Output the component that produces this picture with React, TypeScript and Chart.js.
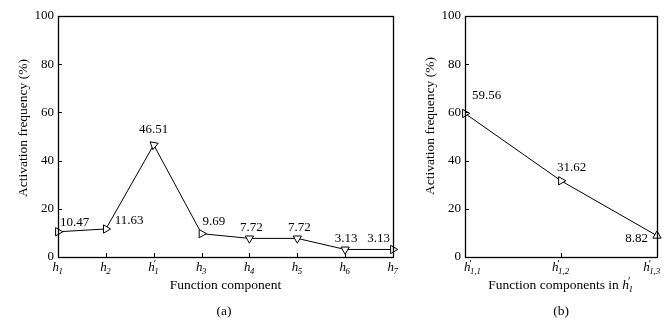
import React, { useEffect, useRef } from "react";
import { Chart, registerables } from "chart.js";

Chart.register(...registerables);

const FONT = '"Liberation Serif", "Times New Roman", "DejaVu Serif", serif';

// ---- data ----
const leftCategories = ["h|1", "h|2", "h'|1", "h|3", "h|4", "h|5", "h|6", "h|7"];
const leftValues = [10.47, 11.63, 46.51, 9.69, 7.72, 7.72, 3.13, 3.13];
const rightCategories = ["h'|1,1", "h'|1,2", "h'|1,3"];
const rightValues = [59.56, 31.62, 8.82];
const yMin = 0;
const yMax = 100;
const yStep = 20;
const yTitle = "Activation frequency (%)";
const leftXTitle = "Function component";
const rightXTitle = "Function components in ";
const rightXTitleMath = "h'|1";
const leftCaption = "(a)";
const rightCaption = "(b)";

type Place = { dx: number; dy: number; align: CanvasTextAlign };

function mathWidth(ctx: CanvasRenderingContext2D, spec: string, size: number) {
  const [base, sub] = spec.split("|");
  const letter = base.replace("'", "");
  ctx.font = `italic ${size}px ${FONT}`;
  const wb = ctx.measureText(letter).width;
  ctx.font = `italic ${size * 0.7}px ${FONT}`;
  const ws = ctx.measureText(sub || "").width;
  return wb + Math.max(ws, base.includes("'") ? size * 0.3 : 0);
}

function drawMath(
  ctx: CanvasRenderingContext2D,
  spec: string,
  x: number,
  baseline: number,
  align: CanvasTextAlign,
  size: number
) {
  const [base, sub] = spec.split("|");
  const prime = base.includes("'");
  const letter = base.replace("'", "");
  const w = mathWidth(ctx, spec, size);
  let sx = x;
  if (align === "center") sx = x - w / 2;
  else if (align === "right") sx = x - w;
  ctx.save();
  ctx.fillStyle = "#000";
  ctx.textAlign = "left";
  ctx.textBaseline = "alphabetic";
  ctx.font = `italic ${size}px ${FONT}`;
  ctx.fillText(letter, sx, baseline);
  const wb = ctx.measureText(letter).width;
  if (prime) {
    ctx.font = `${size * 0.85}px ${FONT}`;
    ctx.fillText("\u2032", sx + wb - 1, baseline - size * 0.28);
  }
  if (sub) {
    ctx.font = `italic ${size * 0.68}px ${FONT}`;
    ctx.fillText(sub, sx + wb - 0.5, baseline + size * 0.2);
  }
  ctx.restore();
  return w;
}

type PanelCfg = {
  categories: string[];
  values: number[];
  rotations: number[];
  places: Place[];
  tickAlign: { dx: number; align: CanvasTextAlign }[];
  width: number;
  height: number;
  padLeft: number;
  padRight: number;
  padTop: number;
  yWidth: number;
  xHeight: number;
  yTitleX: number;
  yTitleY: number;
  xTitle: string;
  xTitleMath?: string;
  xTitleY: number;
  caption: string;
  captionX: number;
  captionY: number;
};

function makePlugin(cfg: PanelCfg) {
  return {
    id: "decor",
    afterDraw(chart: any) {
      const ctx: CanvasRenderingContext2D = chart.ctx;
      const a = chart.chartArea;
      const xs = chart.scales.x;
      const ys = chart.scales.y;
      ctx.save();
      ctx.strokeStyle = "#000";
      ctx.lineWidth = 1.3;
      ctx.strokeRect(a.left + 0.5, a.top + 0.5, a.right - a.left, a.bottom - a.top);
      ctx.lineWidth = 1;
      ctx.beginPath();
      for (let v = yMin + yStep; v < yMax; v += yStep) {
        const py = Math.round(ys.getPixelForValue(v)) + 0.5;
        ctx.moveTo(a.left, py);
        ctx.lineTo(a.left + 4, py);
      }
      cfg.categories.forEach((_, i) => {
        const px = Math.round(xs.getPixelForValue(i)) + 0.5;
        ctx.moveTo(px, a.bottom);
        ctx.lineTo(px, a.bottom - 4);
      });
      ctx.stroke();

      // x tick labels
      cfg.categories.forEach((c, i) => {
        const px = xs.getPixelForValue(i);
        const t = cfg.tickAlign[i];
        drawMath(ctx, c, px + t.dx, a.bottom + 14, t.align, 13);
      });

      // data labels
      const meta = chart.getDatasetMeta(0);
      ctx.fillStyle = "#000";
      ctx.font = `13px ${FONT}`;
      ctx.textBaseline = "middle";
      meta.data.forEach((pt: any, i: number) => {
        const p = cfg.places[i];
        ctx.textAlign = p.align;
        ctx.fillText(cfg.values[i].toFixed(2), pt.x + p.dx, pt.y + p.dy);
      });

      // y title
      ctx.save();
      ctx.translate(cfg.yTitleX, cfg.yTitleY);
      ctx.rotate(-Math.PI / 2);
      ctx.textAlign = "center";
      ctx.textBaseline = "middle";
      ctx.font = `13.5px ${FONT}`;
      ctx.fillText(yTitle, 0, 0);
      ctx.restore();

      // x title
      const cx = (a.left + a.right) / 2;
      ctx.font = `13.5px ${FONT}`;
      ctx.textBaseline = "alphabetic";
      const tw = ctx.measureText(cfg.xTitle).width;
      const mw = cfg.xTitleMath ? mathWidth(ctx, cfg.xTitleMath, 13.5) : 0;
      const start = cx - (tw + mw) / 2;
      ctx.font = `13.5px ${FONT}`;
      ctx.textAlign = "left";
      ctx.fillText(cfg.xTitle, start, cfg.xTitleY);
      if (cfg.xTitleMath) drawMath(ctx, cfg.xTitleMath, start + tw, cfg.xTitleY, "left", 13.5);

      // caption
      ctx.font = `13.5px ${FONT}`;
      ctx.textAlign = "center";
      ctx.textBaseline = "alphabetic";
      ctx.fillText(cfg.caption, cfg.captionX, cfg.captionY);
      ctx.restore();
    },
  };
}

function Panel({ cfg, left }: { cfg: PanelCfg; left: number }) {
  const ref = useRef<HTMLCanvasElement | null>(null);
  useEffect(() => {
    if (!ref.current) return;
    const chart = new Chart(ref.current, {
      type: "line",
      data: {
        labels: cfg.categories,
        datasets: [
          {
            data: cfg.values,
            borderColor: "#000",
            borderWidth: 1,
            pointStyle: "triangle",
            pointRadius: 4.8,
            pointRotation: cfg.rotations,
            pointBackgroundColor: "#fff",
            pointBorderColor: "#000",
            pointBorderWidth: 1,
            tension: 0,
            clip: false as any,
          },
        ],
      },
      options: {
        animation: false,
        responsive: false,
        events: [],
        layout: {
          padding: { left: cfg.padLeft, right: cfg.padRight, top: cfg.padTop, bottom: 0 },
        },
        plugins: { legend: { display: false }, tooltip: { enabled: false }, title: { display: false } },
        scales: {
          x: {
            type: "category",
            offset: false,
            afterFit: (s: any) => {
              s.height = cfg.xHeight;
            },
            ticks: { display: false },
            grid: { display: false, drawTicks: false },
            border: { display: false },
          },
          y: {
            min: yMin,
            max: yMax,
            afterFit: (s: any) => {
              s.width = cfg.yWidth;
            },
            ticks: {
              stepSize: yStep,
              color: "#000",
              font: { family: FONT, size: 13 },
              padding: 4,
            },
            grid: { display: false, drawTicks: false },
            border: { display: false },
          },
        },
      },
      plugins: [makePlugin(cfg)],
    });
    return () => chart.destroy();
  }, [cfg]);
  return (
    <canvas
      ref={ref}
      width={cfg.width}
      height={cfg.height}
      style={{ position: "absolute", left, top: 0, width: cfg.width, height: cfg.height, display: "block" }}
    />
  );
}

const leftCfg: PanelCfg = {
  categories: leftCategories,
  values: leftValues,
  rotations: [90, 90, 70, 90, 180, 180, 180, 90],
  places: [
    { dx: 2, dy: -9, align: "left" },
    { dx: 9, dy: -8, align: "left" },
    { dx: 0, dy: -15, align: "center" },
    { dx: 1, dy: -12, align: "left" },
    { dx: 2, dy: -11, align: "center" },
    { dx: 2, dy: -11, align: "center" },
    { dx: 1, dy: -11, align: "center" },
    { dx: -3, dy: -11, align: "right" },
  ],
  tickAlign: leftCategories.map(() => ({ dx: 0, align: "center" as CanvasTextAlign })),
  width: 410,
  height: 320,
  padLeft: 8,
  padRight: 17,
  padTop: 16,
  yWidth: 50,
  xHeight: 63,
  yTitleX: 23,
  yTitleY: 128,
  xTitle: leftXTitle,
  xTitleY: 289,
  caption: leftCaption,
  captionX: 224,
  captionY: 315,
};

const rightCfg: PanelCfg = {
  categories: rightCategories,
  values: rightValues,
  rotations: [90, 90, 120],
  places: [
    { dx: 7, dy: -18, align: "left" },
    { dx: -4, dy: -13, align: "left" },
    { dx: -9, dy: 3, align: "right" },
  ],
  tickAlign: [
    { dx: -1, align: "left" },
    { dx: 0, align: "center" },
    { dx: 4, align: "right" },
  ],
  width: 255,
  height: 320,
  padLeft: 8,
  padRight: 8,
  padTop: 16,
  yWidth: 47,
  xHeight: 63,
  yTitleX: 20,
  yTitleY: 126,
  xTitle: rightXTitle,
  xTitleMath: rightXTitleMath,
  xTitleY: 289,
  caption: rightCaption,
  captionX: 151,
  captionY: 315,
};

export default function App() {
  return (
    <div
      style={{
        position: "fixed",
        left: 0,
        top: 0,
        width: 665,
        height: 320,
        background: "#fff",
        overflow: "hidden",
      }}
    >
      <Panel cfg={leftCfg} left={0} />
      <Panel cfg={rightCfg} left={410} />
    </div>
  );
}
